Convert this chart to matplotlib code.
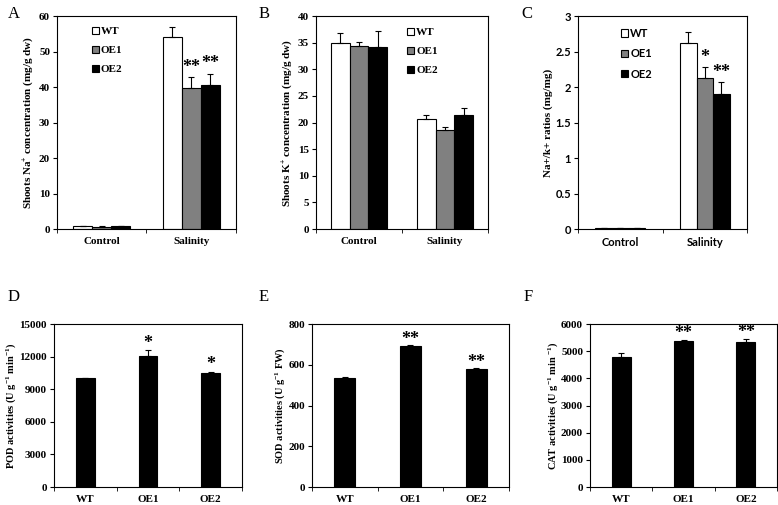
import matplotlib
matplotlib.use("Agg")
import matplotlib.pyplot as plt
import numpy as np
from matplotlib.patches import Patch

plt.rcParams['font.family'] = ['Liberation Serif', 'DejaVu Serif']
plt.rcParams['font.weight'] = 'bold'
plt.rcParams['mathtext.fontset'] = 'custom'
plt.rcParams['mathtext.rm'] = 'Liberation Serif:bold'
plt.rcParams['mathtext.bf'] = 'Liberation Serif:bold'
plt.rcParams['mathtext.it'] = 'Liberation Serif:bold'

# ---- data ----
groups = ["Control", "Salinity"]
lines = ["WT", "OE1", "OE2"]

na_mean = [[0.8, 54.0], [0.7, 39.7], [0.8, 40.5]]
na_err = [[0.1, 3.0], [0.1, 3.0], [0.1, 3.3]]
na_sig = [["", ""], ["", "**"], ["", "**"]]

k_mean = [[35.0, 20.6], [34.4, 18.6], [34.2, 21.4]]
k_err = [[1.8, 0.9], [0.8, 0.5], [3.0, 1.4]]

ratio_mean = [[0.02, 2.62], [0.02, 2.13], [0.02, 1.90]]
ratio_err = [[0.0, 0.15], [0.0, 0.15], [0.0, 0.17]]
ratio_sig = [["", ""], ["", "*"], ["", "**"]]

pod_mean = [10000, 12100, 10500]
pod_err = [50, 500, 100]
pod_sig = ["", "*", "*"]

sod_mean = [535, 690, 580]
sod_err = [3, 5, 5]
sod_sig = ["", "**", "**"]

cat_mean = [4800, 5380, 5350]
cat_err = [130, 40, 100]
cat_sig = ["", "**", "**"]

colors = ["white", "#808080", "black"]

fig = plt.figure(figsize=(7.78, 5.05), dpi=100)


def style_axes(ax, ncat, tick_font=None):
    ax.set_xlim(-0.5, ncat - 0.5)
    ax.set_xticks(np.arange(ncat))
    ax.set_xticks(np.arange(ncat + 1) - 0.5, minor=True)
    ax.tick_params(axis='x', which='major', length=0, labelsize=8, pad=6)
    ax.tick_params(axis='x', which='minor', length=3, direction='out')
    ax.tick_params(axis='y', length=3, direction='out', labelsize=8, pad=2)
    for s in ax.spines.values():
        s.set_linewidth(0.8)
    if tick_font:
        for lab in ax.get_xticklabels() + ax.get_yticklabels():
            lab.set_fontfamily(tick_font)
            lab.set_fontweight('bold')


def grouped(ax, means, errs, sigs, width, sig_off, ylim, yticks, ylabel, legend_xy, tick_font=None):
    x = np.arange(len(groups))
    for i in range(3):
        pos = x + (i - 1) * width
        ax.bar(pos, means[i], width, color=colors[i], edgecolor='black', linewidth=0.8, zorder=2)
        ax.errorbar(pos, means[i], yerr=[np.zeros(len(groups)), errs[i]], fmt='none',
                    ecolor='black', elinewidth=0.8, capsize=2.5, capthick=0.8, zorder=3)
        if sigs is not None:
            for j in range(len(groups)):
                if sigs[i][j]:
                    ax.text(pos[j], means[i][j] + errs[i][j] + sig_off, sigs[i][j],
                            ha='center', va='center', fontsize=13, fontweight='bold')
    ax.set_ylim(*ylim)
    ax.set_yticks(yticks)
    ax.set_xticklabels(groups)
    ax.set_ylabel(ylabel, fontsize=8, fontweight='bold', labelpad=2)
    style_axes(ax, len(groups), tick_font)
    handles = [Patch(facecolor=colors[i], edgecolor='black', linewidth=0.8) for i in range(3)]
    ax.legend(handles, lines, loc='upper left', bbox_to_anchor=legend_xy, frameon=False,
              handlelength=0.6, handleheight=0.6, handletextpad=0.2, labelspacing=0.85,
              borderaxespad=0, prop={'size': 8, 'weight': 'bold',
                                     'family': tick_font or 'Liberation Serif'})


def single(ax, means, errs, sigs, width, sig_off, ylim, yticks, ylabel):
    x = np.arange(len(lines))
    ax.bar(x, means, width, color='black', edgecolor='black', linewidth=0.8, zorder=2)
    ax.errorbar(x, means, yerr=[np.zeros(len(lines)), errs], fmt='none', ecolor='black',
                elinewidth=0.8, capsize=2.5, capthick=0.8, zorder=3)
    for j in range(len(lines)):
        if sigs[j]:
            ax.text(x[j], means[j] + errs[j] + sig_off, sigs[j], ha='center', va='center',
                    fontsize=13, fontweight='bold')
    ax.set_ylim(*ylim)
    ax.set_yticks(yticks)
    ax.set_xticklabels(lines)
    ax.set_ylabel(ylabel, fontsize=7.5, fontweight='bold', labelpad=1)
    style_axes(ax, len(lines))


axA = fig.add_axes([0.0733, 0.5465, 0.230, 0.4218])
grouped(axA, na_mean, na_err, na_sig, 0.213, 2.8, (0, 60), np.arange(0, 61, 10),
        "Shoots Na$^{+}$ concentration (mg/g dw)", (0.17, 0.97))

axB = fig.add_axes([0.4062, 0.5465, 0.2211, 0.4218])
grouped(axB, k_mean, k_err, None, 0.22, 1.0, (0, 40), np.arange(0, 41, 5),
        "Shoots K$^{+}$ concentration (mg/g dw)", (0.505, 0.965))

axC = fig.add_axes([0.743, 0.5465, 0.2172, 0.4218])
grouped(axC, ratio_mean, ratio_err, ratio_sig, 0.196, 0.14, (0, 3), [0, 0.5, 1, 1.5, 2, 2.5, 3],
        "Na+/k+ ratios (mg/mg)", (0.23, 0.965), tick_font='Lato')
axC.set_yticklabels(["0", "0.5", "1", "1.5", "2", "2.5", "3"])
for lab in axC.get_yticklabels():
    lab.set_fontfamily('Lato')
    lab.set_fontweight('bold')

axD = fig.add_axes([0.0694, 0.0356, 0.2416, 0.3228])
single(axD, pod_mean, pod_err, pod_sig, 0.30, 650, (0, 15000), np.arange(0, 15001, 3000),
       "POD activities (U g$^{-1}$ min$^{-1}$)")

axE = fig.add_axes([0.401, 0.0356, 0.2532, 0.3228])
single(axE, sod_mean, sod_err, sod_sig, 0.32, 28, (0, 800), np.arange(0, 801, 200),
       "SOD activities (U g$^{-1}$ FW)")

axF = fig.add_axes([0.7584, 0.0356, 0.2404, 0.3228])
single(axF, cat_mean, cat_err, cat_sig, 0.305, 220, (0, 6000), np.arange(0, 6001, 1000),
       "CAT activities (U g$^{-1}$ min $^{-1}$)")

for letter, (px, py) in zip("ABCDEF", [(8, 14), (259, 14), (521, 14), (8, 297), (259, 297), (524, 297)]):
    fig.text(px / 778, 1 - py / 505, letter, fontsize=12, fontweight='normal',
             ha='left', va='center', family='Liberation Serif')

fig.savefig("out.png", dpi=100)
